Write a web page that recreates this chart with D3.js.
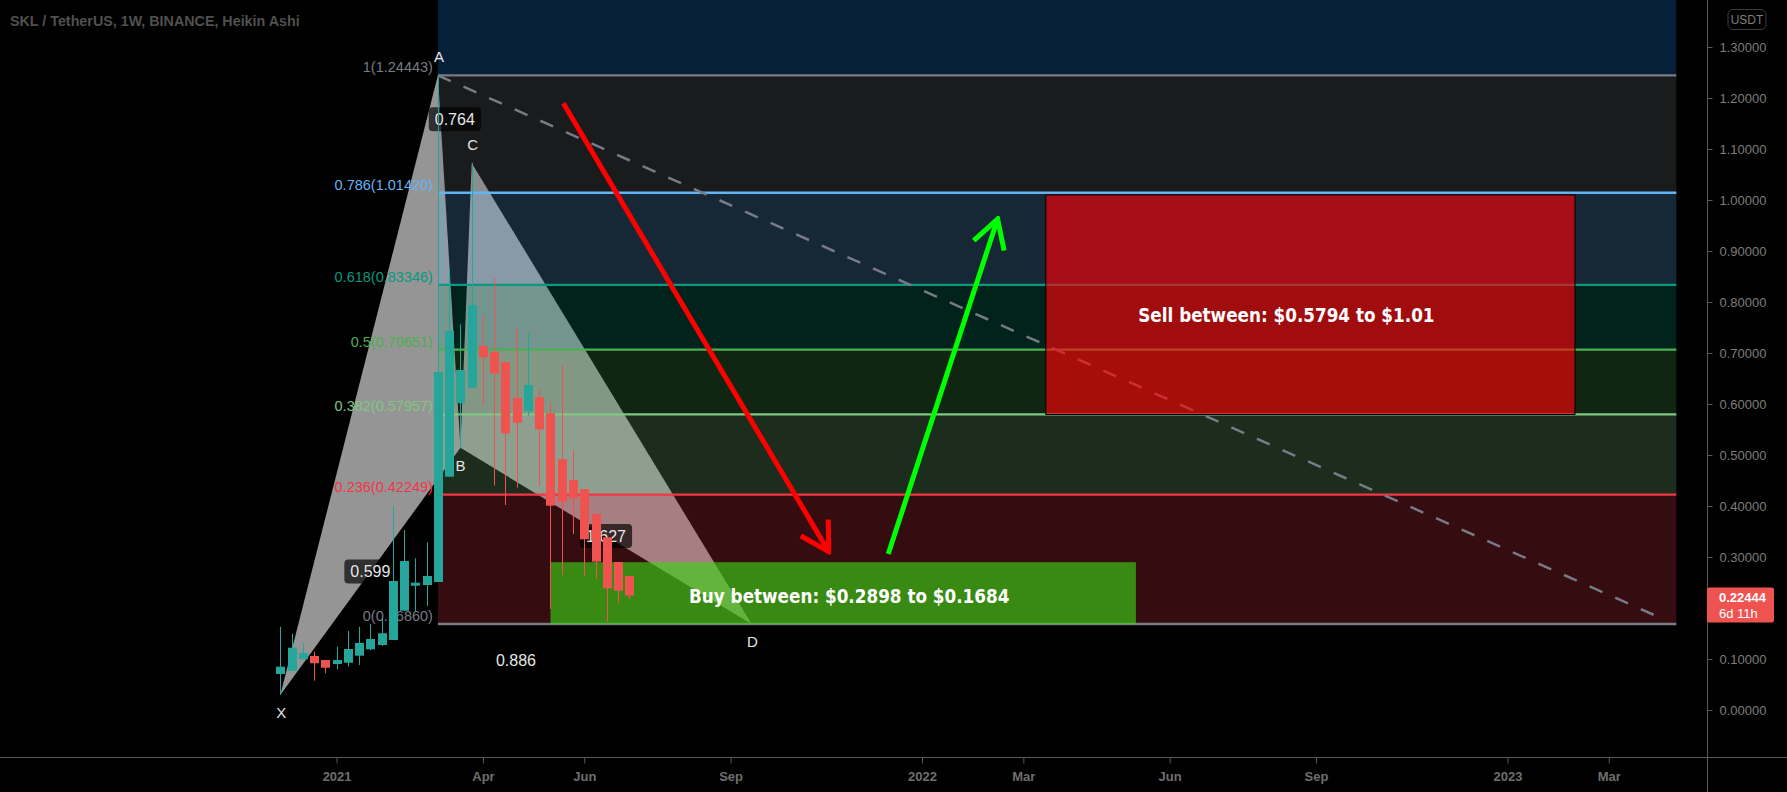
<!DOCTYPE html>
<html>
<head>
<meta charset="utf-8">
<script src="https://cdn.jsdelivr.net/npm/d3@7"></script>
<style>
body { margin: 0; background: #000; overflow: hidden; }
svg { display: block; }
</style>
</head>
<body>
<div id="chart"></div>
<script>
const width = 1787;
const height = 792;
const plotRight = 1707;
const plotBottom = 757;

const title = "SKL / TetherUS, 1W, BINANCE, Heikin Ashi";

// weekly Heikin Ashi candles
const weeks = ["2020-11-23", "2020-11-30", "2020-12-07", "2020-12-14", "2020-12-21", "2020-12-28",
    "2021-01-04", "2021-01-11", "2021-01-18", "2021-01-25", "2021-02-01", "2021-02-08",
    "2021-02-15", "2021-02-22", "2021-03-01", "2021-03-08", "2021-03-15", "2021-03-22",
    "2021-03-29", "2021-04-05", "2021-04-12", "2021-04-19", "2021-04-26", "2021-05-03",
    "2021-05-10", "2021-05-17", "2021-05-24", "2021-05-31", "2021-06-07", "2021-06-14",
    "2021-06-21", "2021-06-28"];
const opens = [0.0706, 0.0765, 0.0994, 0.1059, 0.0980, 0.0902, 0.0927, 0.1065, 0.1190, 0.1275, 0.1373, 0.1947,
    0.2437, 0.2451, 0.2510, 0.4575, 0.6014, 0.6320, 0.7137, 0.7025, 0.6824, 0.6118, 0.5863, 0.6131,
    0.5818, 0.4916, 0.4510, 0.4333, 0.3843, 0.3386, 0.2902, 0.2627];
const highs = [0.1633, 0.1490, 0.1308, 0.1143, 0.0980, 0.1241, 0.1549, 0.1633, 0.1686, 0.1798, 0.4000, 0.3529,
    0.2975, 0.3288, 1.24443, 0.8641, 0.7563, 1.0725, 0.7725, 0.8465, 0.6824, 0.7504, 0.7386, 0.6288,
    0.6045, 0.6765, 0.5098, 0.4333, 0.3843, 0.3386, 0.2902, 0.2627];
const lows = [0.0294, 0.0765, 0.0994, 0.0575, 0.0720, 0.0798, 0.0849, 0.0882, 0.1170, 0.1255, 0.1373, 0.1947,
    0.1927, 0.2039, 0.2510, 0.4575, 0.5131, 0.6320, 0.5980, 0.4398, 0.4020, 0.4359, 0.5771, 0.4392,
    0.1980, 0.2647, 0.3451, 0.2633, 0.2569, 0.1731, 0.2092, 0.2171];
const closes = [0.0849, 0.1222, 0.1118, 0.0916, 0.0829, 0.0980, 0.1196, 0.1314, 0.1392, 0.1504, 0.2529, 0.2922,
    0.2496, 0.2627, 0.6627, 0.7431, 0.6667, 0.7941, 0.6916, 0.6602, 0.5425, 0.5633, 0.6373, 0.5504,
    0.4006, 0.4084, 0.4151, 0.3347, 0.2908, 0.2386, 0.2339, 0.22444];

// fib retracement
const fibRatios = ["1", "0.786", "0.618", "0.5", "0.382", "0.236", "0"];
const fibPrices = [1.24443, 1.01420, 0.83346, 0.70651, 0.57957, 0.42249, 0.16860];
const fibColors = ["#787b86", "#64b5f6", "#089981", "#4caf50", "#81c784", "#f23645", "#787b86"];
const fibDates = ["2021-03-01", "2023-04-10"];
const fibTopColor = "#06203a";

// XABCD pattern
const patternNames = ["X", "A", "B", "C", "D"];
const patternDates = ["2020-11-23", "2021-03-01", "2021-03-15", "2021-03-22", "2021-09-12"];
const patternPrices = [0.0294, 1.24443, 0.514, 1.0725, 0.1686];
const ratioFrom = [0, 1, 2, 0];
const ratioTo = [2, 3, 4, 4];
const ratioTexts = ["0.599", "0.764", "1.627", "0.886"];

// trend line
const trendDates = ["2021-03-01", "2023-03-30"];
const trendPrices = [1.24443, 0.1824];

// boxes
const buyDates = ["2021-05-10", "2022-05-09"];
const buyPrices = [0.2898, 0.1684];
const buyText = "Buy between: $0.2898 to $0.1684";
const sellDates = ["2022-03-14", "2023-02-06"];
const sellPrices = [1.01, 0.5794];
const sellText = "Sell between: $0.5794 to $1.01";

// arrows
const redArrowDates = ["2021-05-18", "2021-10-30"];
const redArrowPrices = [1.1896, 0.3104];
const greenArrowDates = ["2021-12-06", "2022-02-12"];
const greenArrowPrices = [0.3059, 0.9627];

// axes (0.2 is hidden behind the last price tag)
const priceTicks = [0, 0.1, 0.3, 0.4, 0.5, 0.6, 0.7, 0.8, 0.9, 1.0, 1.1, 1.2, 1.3];
const timeTicks = ["2021-01-01", "2021-04-01", "2021-06-01", "2021-09-01", "2022-01-01", "2022-03-01",
    "2022-06-01", "2022-09-01", "2023-01-01", "2023-03-01"];
const lastPrice = 0.22444;
const countdown = "6d 11h";

const parse = d3.timeParse("%Y-%m-%d");

const x = d3.scaleTime()
    .domain([parse("2020-11-23"), parse("2021-06-28")])
    .range([280.3, 629.3]);
const y = d3.scaleLinear()
    .domain([0, 1])
    .range([710, 200]);

const svg = d3.select("#chart")
    .append("svg")
    .attr("width", width)
    .attr("height", height)
    .style("background", "#000");

const defs = svg.append("defs");
defs.append("clipPath").attr("id", "plot")
    .append("rect").attr("width", plotRight).attr("height", plotBottom);

function addArrowHead(id, color) {
    defs.append("marker")
        .attr("id", id)
        .attr("viewBox", "0 0 32 38")
        .attr("markerUnits", "userSpaceOnUse")
        .attr("markerWidth", 32)
        .attr("markerHeight", 38)
        .attr("refX", 29)
        .attr("refY", 19)
        .attr("orient", "auto")
        .append("path")
        .attr("d", "M1,3 L29,19 L1,35")
        .attr("fill", "none")
        .attr("stroke", color)
        .attr("stroke-width", 5);
}
addArrowHead("headRed", "#ff0000");
addArrowHead("headGreen", "#00ff00");

const plot = svg.append("g").attr("clip-path", "url(#plot)");

// title
svg.append("text")
    .attr("x", 10)
    .attr("y", 26)
    .attr("fill", "#505050")
    .attr("font-family", "Liberation Sans, sans-serif")
    .attr("font-weight", "bold")
    .attr("font-size", 14.3)
    .text(title);

// pattern triangles
const pts = patternDates.map((d, i) => [x(parse(d)), y(patternPrices[i])]);
plot.append("path")
    .attr("d", "M" + [pts[0], pts[1], pts[2]].join("L") + "Z")
    .attr("fill", "#959595");
plot.append("path")
    .attr("d", "M" + [pts[2], pts[3], pts[4]].join("L") + "Z")
    .attr("fill", "#939393");

// fib zones
const fx0 = x(parse(fibDates[0]));
const fx1 = x(parse(fibDates[1]));
plot.append("rect")
    .attr("x", fx0).attr("y", 0)
    .attr("width", fx1 - fx0).attr("height", y(fibPrices[0]))
    .attr("fill", fibTopColor);
for (let i = 0; i < fibPrices.length - 1; i++) {
    plot.append("rect")
        .attr("x", fx0).attr("y", y(fibPrices[i]))
        .attr("width", fx1 - fx0)
        .attr("height", y(fibPrices[i + 1]) - y(fibPrices[i]))
        .attr("fill", fibColors[i])
        .attr("fill-opacity", 0.22);
}
fibPrices.forEach((p, i) => {
    plot.append("line")
        .attr("x1", fx0).attr("x2", fx1)
        .attr("y1", y(p)).attr("y2", y(p))
        .attr("stroke", fibColors[i])
        .attr("stroke-width", 2.3);
    plot.append("text")
        .attr("x", fx0 - 5)
        .attr("y", y(p) - 3)
        .attr("text-anchor", "end")
        .attr("fill", fibColors[i])
        .attr("font-family", "Liberation Sans, sans-serif")
        .attr("font-size", 14.5)
        .text(fibRatios[i] + "(" + p.toFixed(5) + ")");
});

// dashed trend line
plot.append("line")
    .attr("x1", x(parse(trendDates[0]))).attr("y1", y(trendPrices[0]))
    .attr("x2", x(parse(trendDates[1]))).attr("y2", y(trendPrices[1]))
    .attr("stroke", "#787b86")
    .attr("stroke-width", 2.5)
    .attr("stroke-dasharray", "14,14");

// buy / sell boxes
function box(dates, prices, fill, stroke) {
    const x0 = x(parse(dates[0])), x1 = x(parse(dates[1]));
    const y0 = y(prices[0]), y1 = y(prices[1]);
    return plot.append("rect")
        .attr("x", x0).attr("y", y0)
        .attr("width", x1 - x0).attr("height", y1 - y0)
        .attr("fill", fill)
        .attr("fill-opacity", 0.63)
        .attr("stroke", stroke);
}
box(buyDates, buyPrices, "rgb(58,213,22)", "none");
box(sellDates, sellPrices, "rgb(255,0,6)", "#000");

// ratio labels
ratioTexts.forEach((t, i) => {
    const a = pts[ratioFrom[i]], b = pts[ratioTo[i]];
    const cx = (a[0] + b[0]) / 2, cy = (a[1] + b[1]) / 2;
    const g = plot.append("g");
    const txt = g.append("text")
        .attr("x", cx).attr("y", cy + 6)
        .attr("text-anchor", "middle")
        .attr("fill", "#e6e6e6")
        .attr("font-family", "Liberation Sans, sans-serif")
        .attr("font-size", 16)
        .text(t);
    const bb = txt.node().getBBox();
    g.insert("rect", "text")
        .attr("x", bb.x - 6).attr("y", cy - 12)
        .attr("width", bb.width + 12).attr("height", 24)
        .attr("rx", 4)
        .attr("fill", "rgba(0,0,0,0.68)");
});

// candles
const candles = weeks.map((w, i) => ({
    t: parse(w), o: opens[i], h: highs[i], l: lows[i], c: closes[i]
}));
const cg = plot.append("g");
cg.selectAll("line")
    .data(candles)
    .enter()
    .append("line")
    .attr("x1", d => Math.round(x(d.t)) + 0.5)
    .attr("x2", d => Math.round(x(d.t)) + 0.5)
    .attr("y1", d => y(d.h))
    .attr("y2", d => y(d.l))
    .attr("stroke", d => d.c >= d.o ? "#26a69a" : "#ef5350");
cg.selectAll("rect")
    .data(candles)
    .enter()
    .append("rect")
    .attr("x", d => Math.round(x(d.t)) - 4)
    .attr("width", 9)
    .attr("y", d => y(Math.max(d.o, d.c)))
    .attr("height", d => Math.max(1, Math.abs(y(d.o) - y(d.c))))
    .attr("fill", d => d.c >= d.o ? "#26a69a" : "#ef5350");

// pattern point labels
patternNames.forEach((n, i) => {
    const prev = patternPrices[i - 1], next = patternPrices[i + 1];
    const ref = next !== undefined ? next : prev;
    const above = patternPrices[i] > ref;
    plot.append("text")
        .attr("x", pts[i][0] + (n === "B" ? 0 : 1))
        .attr("y", pts[i][1] + (above ? -13 : 23))
        .attr("text-anchor", "middle")
        .attr("fill", "#e6e6e6")
        .attr("font-family", "Liberation Sans, sans-serif")
        .attr("font-size", 15)
        .text(n);
});

// arrows
function arrow(dates, prices, color, head) {
    plot.append("line")
        .attr("x1", x(parse(dates[0]))).attr("y1", y(prices[0]))
        .attr("x2", x(parse(dates[1]))).attr("y2", y(prices[1]))
        .attr("stroke", color)
        .attr("stroke-width", 5)
        .attr("marker-end", "url(#" + head + ")");
}
arrow(redArrowDates, redArrowPrices, "#ff0000", "headRed");
arrow(greenArrowDates, greenArrowPrices, "#00ff00", "headGreen");

// box texts
function boxText(dates, prices, text, dx, dy) {
    const cx = (x(parse(dates[0])) + x(parse(dates[1]))) / 2;
    const cy = (y(prices[0]) + y(prices[1])) / 2;
    plot.append("text")
        .attr("x", cx + dx).attr("y", cy + dy)
        .attr("text-anchor", "middle")
        .attr("fill", "#ffffff")
        .attr("font-family", "DejaVu Sans Condensed, sans-serif")
        .attr("font-weight", "bold")
        .attr("font-size", 18.7)
        .text(text);
}
boxText(buyDates, buyPrices, buyText, 6, 10);
boxText(sellDates, sellPrices, sellText, -24, 17);

// axes
const axisColor = "#5a5a5a";
const labelColor = "#7d7d7d";
svg.append("line")
    .attr("x1", plotRight + 0.5).attr("x2", plotRight + 0.5)
    .attr("y1", 0).attr("y2", height)
    .attr("stroke", axisColor);
svg.append("line")
    .attr("x1", 0).attr("x2", width)
    .attr("y1", plotBottom + 0.5).attr("y2", plotBottom + 0.5)
    .attr("stroke", axisColor);

const yAxis = svg.append("g")
    .attr("transform", "translate(" + (plotRight + 0.5) + ",0)")
    .call(d3.axisRight(y).tickValues(priceTicks).tickSize(5).tickPadding(7)
        .tickFormat(d3.format(".5f")));
yAxis.select(".domain").remove();
yAxis.selectAll("line").attr("stroke", axisColor);
yAxis.selectAll("text")
    .attr("fill", labelColor)
    .attr("font-family", "Liberation Sans, sans-serif")
    .attr("font-size", 13);

const tickDates = timeTicks.map(d => parse(d));
const xAxis = svg.append("g")
    .attr("transform", "translate(0," + (plotBottom + 0.5) + ")")
    .call(d3.axisBottom(x)
        .tickValues(tickDates.map(d => d3.timeMonday.floor(d)))
        .tickSize(6).tickPadding(8)
        .tickFormat((d, i) => tickDates[i].getMonth() === 0
            ? d3.timeFormat("%Y")(tickDates[i]) : d3.timeFormat("%b")(tickDates[i])));
xAxis.select(".domain").remove();
xAxis.selectAll("line").attr("stroke", axisColor);
xAxis.selectAll("text")
    .attr("fill", "#6f6f6f")
    .attr("font-family", "Liberation Sans, sans-serif")
    .attr("font-weight", "bold")
    .attr("font-size", 13);

// currency badge
svg.append("rect")
    .attr("x", 1728).attr("y", 9.5)
    .attr("width", 38).attr("height", 20)
    .attr("rx", 5)
    .attr("fill", "none")
    .attr("stroke", "#3c3c3c");
svg.append("text")
    .attr("x", 1747).attr("y", 24)
    .attr("text-anchor", "middle")
    .attr("fill", labelColor)
    .attr("font-family", "Liberation Sans, sans-serif")
    .attr("font-size", 12)
    .text("USDT");

// last price tag
const py = y(lastPrice);
svg.append("rect")
    .attr("x", plotRight).attr("y", py - 8)
    .attr("width", 67).attr("height", 35)
    .attr("rx", 2)
    .attr("fill", "#ef5350");
svg.append("text")
    .attr("x", plotRight + 12).attr("y", py + 6)
    .attr("fill", "#ffffff")
    .attr("font-family", "Liberation Sans, sans-serif")
    .attr("font-weight", "bold")
    .attr("font-size", 13)
    .text(lastPrice.toFixed(5));
svg.append("text")
    .attr("x", plotRight + 12).attr("y", py + 22)
    .attr("fill", "#ffffff")
    .attr("font-family", "Liberation Sans, sans-serif")
    .attr("font-size", 13)
    .text(countdown);
</script>
</body>
</html>
